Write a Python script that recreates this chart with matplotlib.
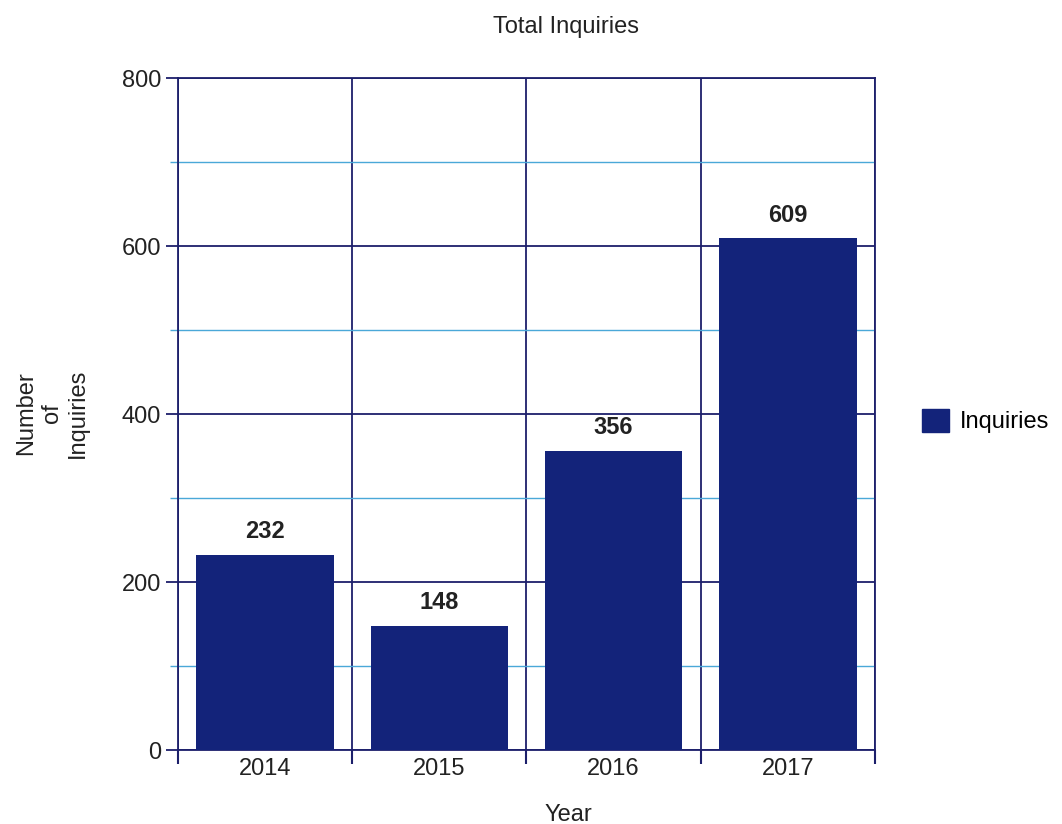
import matplotlib.pyplot as plt
from matplotlib.patches import Patch

years = ['2014', '2015', '2016', '2017']
inquiries = [232, 148, 356, 609]

plt.rcParams['font.family'] = ['Liberation Sans', 'DejaVu Sans']

navy = '#13237a'
grid_dark = '#1c1f6b'
grid_light = '#4aa8d8'
txt = '#222222'

fig = plt.figure(figsize=(10.62, 8.24), dpi=100)
ax = fig.add_axes([0.1676, 0.0898, 0.6563, 0.8155])

pos = [i + 0.5 for i in range(len(years))]
ax.bar(pos, inquiries, width=0.79, color=navy, zorder=3)

for x, v in zip(pos, inquiries):
    ax.text(x, v + 14, str(v), ha='center', va='bottom', fontsize=17,
            fontweight='bold', color=txt)

ax.set_xlim(0, 4)
ax.set_ylim(0, 800)

# category separators as major x ticks, labels on minor ticks
ax.set_xticks([0, 1, 2, 3, 4])
ax.set_xticklabels([])
ax.set_xticks(pos, minor=True)
ax.set_xticklabels(years, minor=True, fontsize=17, color=txt)
ax.tick_params(axis='x', which='major', length=10, width=1.5, color=grid_dark, direction='out')
ax.tick_params(axis='x', which='minor', length=0, pad=6)
ax.grid(axis='x', which='major', color=grid_dark, linewidth=1.3, zorder=1)

ax.set_yticks(range(0, 801, 200))
ax.set_yticks(range(100, 800, 200), minor=True)
ax.tick_params(axis='y', which='major', length=9, width=1.3, color=grid_dark,
               labelsize=17, labelcolor=txt, pad=3)
ax.tick_params(axis='y', which='minor', length=6, width=1.0, color=grid_light)
ax.grid(axis='y', which='major', color=grid_dark, linewidth=1.3, zorder=1)
ax.grid(axis='y', which='minor', color=grid_light, linewidth=1.0, zorder=1)

for s in ax.spines.values():
    s.set_color(grid_dark)
    s.set_linewidth(1.3)

fig.text(566 / 1062, 1 - 27 / 824, 'Total Inquiries', ha='center', va='center',
         fontsize=17, color=txt)
fig.text(52 / 1062, 1 - 413 / 824, 'Number\nof\nInquiries', ha='center', va='center',
         rotation=90, fontsize=17, color=txt)
fig.text(568 / 1062, 1 - 815 / 824, 'Year', ha='center', va='center',
         fontsize=17, color=txt)

fig.legend(handles=[Patch(color=navy, label='Inquiries')], loc='center left',
           bbox_to_anchor=(922 / 1062, 1 - 421 / 824), frameon=False,
           borderpad=0, borderaxespad=0, fontsize=17,
           handlelength=1.15, handleheight=1.15, handletextpad=0.45)

fig.savefig('out.png', dpi=100)
